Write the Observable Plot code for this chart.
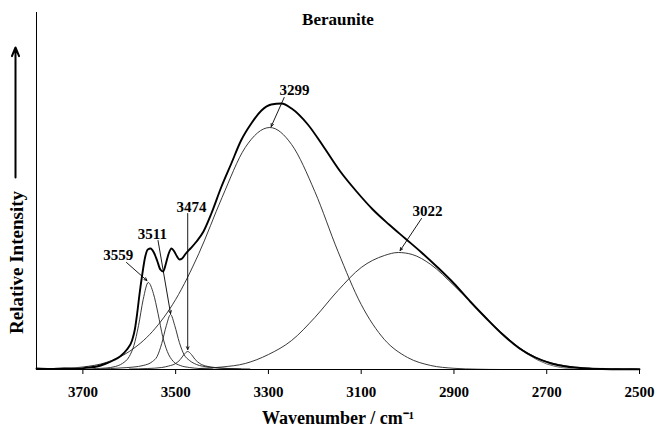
<!DOCTYPE html>
<html>
<head>
<meta charset="utf-8">
<script src="https://cdn.jsdelivr.net/npm/d3@7"></script>
<script src="https://cdn.jsdelivr.net/npm/@observablehq/plot@0.6"></script>
<style>
  body { margin: 0; background: #fff; }
  #chart svg { display: block; }
</style>
</head>
<body>
<div id="chart"></div>
<script>
// ---- Data (wavenumber in cm-1, relative intensity in arbitrary units) ----
const envelopeWn  = [3800,3770,3740,3710,3690,3670,3650,3635,3620,3605,3594,3588,3583,3578,3572,3566,3560,3554,3547,3540,3533,3527,3521,3515,3509,3503,3497,3492,3486,3478,3468,3455,3440,3423,3402,3380,3359,3337,3315,3294,3272,3250,3215,3180,3145,3110,3075,3040,3005,2970,2935,2900,2865,2830,2795,2760,2725,2690,2655,2620,2580,2540,2500];
const envelopeInt = [1,0.5,1,0.5,2,3,6,9,13,20,29,40,56,75,95,112,120,121,117,109,100,98,106,116,121,118,113,110,111,116,121,128,138,156,182,206,229,246,259,265,266,261,245,222,198,178,160,145,131,117,102,86,68,51,35,21.5,12,6,2.7,1.2,0.5,0.3,0.3];

// measured spectrum where it separates from the fitted envelope (low-wavenumber tail)
const measuredWn  = [2760,2740,2720,2700,2685,2670,2655,2640,2625,2610,2595,2580,2565,2550,2535,2520,2505];
const measuredInt = [21,15,9.5,5.5,3.5,2,1.2,1.8,0.8,1.4,0.6,1.1,0.5,1,0.4,0.8,0.4];

const band3559Wn  = [3690,3670,3650,3630,3615,3600,3590,3580,3570,3559,3548,3538,3528,3518,3505,3490,3470,3450,3420];
const band3559Int = [0.5,1,1.5,3,6,13,24,44,70,87,76,56,33,18,8,4,2,1,0.5];

const band3511Wn  = [3660,3620,3590,3570,3550,3540,3530,3520,3511,3502,3492,3482,3470,3455,3430,3400,3360];
const band3511Int = [0.5,1.5,2.5,4,8,13,26,44,55,44,27,15,9,5,2.5,1.2,0.5];

const band3474Wn  = [3600,3560,3530,3515,3500,3490,3482,3474,3466,3458,3448,3435,3415,3385,3340];
const band3474Int = [0.5,1,2,3.5,6,10,15,18,15,10,6,3.5,2,1,0.5];

const band3299Wn  = [3800,3750,3700,3650,3600,3550,3500,3450,3400,3350,3297,3250,3200,3150,3100,3050,3000,2950,2900,2850,2800];
const band3299Int = [0.3,1,2.5,7,18,38,70,116,172,222,242,225,178,118,65,30,12,4,1.2,0.3,0];

const band3022Wn  = [3450,3400,3350,3300,3250,3200,3150,3100,3050,3020,2990,2950,2900,2850,2800,2750,2700,2650,2600,2550,2500];
const band3022Int = [1,2.5,6,15,29,52,79,102,114,117,115,105,84,61,38,19,8,3,1,0.4,0.2];

// Peak annotations
const peakLabels   = ["3559","3511","3474","3299","3022"];
const labelWn      = [3624, 3550, 3466, 3244, 2957];
const labelInt     = [114, 135, 162, 279, 158];
const arrowFromWn  = [3606, 3538, 3474, 3266, 2970];
const arrowFromInt = [107, 129, 156, 272, 151];
const arrowToWn    = [3562, 3511, 3474, 3294, 3016];
const arrowToInt   = [89, 56, 20, 243, 119];

// Axis-title annotations
const xTicks = [3700, 3500, 3300, 3100, 2900, 2700, 2500];
const title = "Beraunite";
const xLabel = "Wavenumber / cm\u207B\u00B9";
const yLabel = "Relative Intensity";
const yLabelAt = {wn: 3800, val: 107};
const yArrow = {wn: 3800, from: 192, to: 322};

// ---- Build tables ----
const rows = (w, v) => w.map((x, i) => ({wn: x, val: v[i]}));
const bands = [
  rows(band3559Wn, band3559Int),
  rows(band3511Wn, band3511Int),
  rows(band3474Wn, band3474Int),
  rows(band3299Wn, band3299Int),
  rows(band3022Wn, band3022Int)
];
const envelope = rows(envelopeWn, envelopeInt);
const measured = rows(measuredWn, measuredInt);
const annotations = peakLabels.map((t, i) => ({
  text: t, lx: labelWn[i], ly: labelInt[i],
  x1: arrowFromWn[i], y1: arrowFromInt[i], x2: arrowToWn[i], y2: arrowToInt[i]
}));

const serif = "'Liberation Serif', 'Times New Roman', Times, serif";

const chart = Plot.plot({
  width: 655,
  height: 427,
  marginLeft: 36,
  marginRight: 16,
  marginTop: 12,
  marginBottom: 58,
  style: {fontFamily: serif, background: "#fff", color: "#000"},
  x: {domain: [3800, 2500], axis: null},
  y: {domain: [0, 357], axis: null},
  marks: [
    ...bands.map(b => Plot.line(b, {x: "wn", y: "val", stroke: "#222", strokeWidth: 0.9, curve: "monotone-x"})),
    Plot.line(measured, {x: "wn", y: "val", stroke: "#444", strokeWidth: 0.8, curve: "linear"}),
    Plot.line(envelope, {x: "wn", y: "val", stroke: "#000", strokeWidth: 1.9, curve: "monotone-x"}),
    Plot.ruleY([0], {stroke: "#000", strokeWidth: 1}),
    Plot.ruleX([3800], {stroke: "#000", strokeWidth: 1}),
    Plot.axisX(xTicks, {
      tickSize: 5, tickPadding: 12, tickFormat: d => String(d),
      fontSize: 15, fontWeight: "bold", fontFamily: serif, label: null
    }),
    Plot.arrow(annotations, {
      x1: "x1", y1: "y1", x2: "x2", y2: "y2",
      stroke: "#000", strokeWidth: 0.9, headLength: 5, headAngle: 50
    }),
    Plot.text(annotations, {
      x: "lx", y: "ly", text: "text",
      fontSize: 15, fontWeight: "bold", fontFamily: serif, fill: "#000"
    }),
    Plot.text([title], {frameAnchor: "top", lineAnchor: "middle", textAnchor: "middle", dy: 7, fontSize: 17, fontWeight: "bold", fontFamily: serif, fill: "#000"}),
    Plot.text([xLabel], {frameAnchor: "bottom", lineAnchor: "middle", textAnchor: "middle", dy: 49, fontSize: 18, fontWeight: "bold", fontFamily: serif, fill: "#000"}),
    Plot.text([yLabelAt], {x: "wn", y: "val", text: () => yLabel, rotate: -90, textAnchor: "middle", lineAnchor: "middle", dx: -20, fontSize: 19, fontWeight: "bold", fontFamily: serif, fill: "#000"}),
    Plot.arrow([yArrow], {
      x1: "wn", x2: "wn", y1: "from", y2: "to", dx: -21,
      stroke: "#000", strokeWidth: 2, headLength: 7, headAngle: 45
    })
  ]
});

document.getElementById("chart").appendChild(chart);
</script>
</body>
</html>
